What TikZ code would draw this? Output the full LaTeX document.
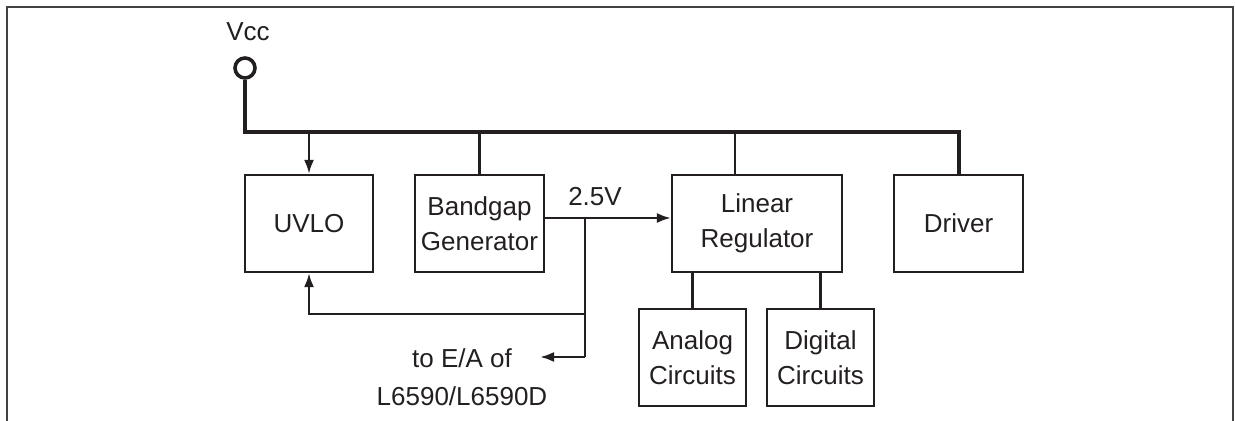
\documentclass[tikz,border=0pt]{standalone}
\usepackage{fontspec}
\setmainfont{Liberation Sans}
\usetikzlibrary{arrows.meta}
\definecolor{ink}{HTML}{231F20}
\begin{document}
\begin{tikzpicture}[x=0.5pt,y=-0.5pt,
  every node/.style={text=ink},
  txt/.style={font=\fontsize{13}{17.5}\selectfont},
  blk/.style={draw=ink,line width=1.1pt,minimum height=48.5pt,align=center,inner sep=0pt,font=\fontsize{13}{17.5}\selectfont},
  wire/.style={draw=ink,line width=1.2pt},
  bus/.style={draw=ink,line width=2pt},
  tip/.style={-{Latex[length=7pt,width=5pt]}},
  frame/.style={draw=ink!85,line width=1.1pt}]
\useasboundingbox (0,0) rectangle (1235,421);
\draw[frame] (7,421) -- (7,7) -- (1233,7) -- (1233,421);
% blocks
\node[blk,minimum width=64pt] (uvlo) at (309,223.5) {UVLO};
\node[blk,minimum width=64.5pt] (bg) at (479.5,223.5) {Bandgap\\Generator};
\node[blk,minimum width=85pt] (lr) at (757,223.5) {Linear\\Regulator};
\node[blk,minimum width=64.5pt] (drv) at (958.5,223.5) {Driver};
\node[blk,minimum width=53.5pt] (an) at (692.5,357.5) {Analog\\Circuits};
\node[blk,minimum width=53.5pt] (dg) at (820.5,357.5) {Digital\\Circuits};
% Vcc
\node[circle,draw=ink,line width=1.8pt,minimum size=10pt,inner sep=0pt,fill=white] (vcc) at (245,68) {};
\node[txt] (vcclbl) at (248,32) {Vcc};
\coordinate (busL) at (245,132);
\coordinate (busR) at (958.5,132);
\draw[bus] (vcc.south) -- (busL) -- (busR) -- (drv.north);
\draw[wire,tip] (uvlo.north |- busL) -- (uvlo.north);
\draw[wire] (bg.north |- busL) -- (bg.north);
\draw[wire] (735,132) coordinate (lrt) -- (lrt |- lr.north);
\draw[wire] (an.north |- lr.south) -- (an.north);
\draw[wire] (dg.north |- lr.south) -- (dg.north);
% 2.5V net
\coordinate (j1) at (585,218);
\coordinate (j2) at (585,314);
\coordinate (j3) at (585,357);
\coordinate (ea) at (540,357);
\draw[wire,tip] (bg.east |- j1) -- (lr.west |- j1);
\draw[wire] (j1) -- (j3);
\draw[wire,tip] (j2) -| (uvlo.south);
\draw[wire,tip] (j3) -- (ea);
\node[txt] (v25) at (595,197) {2.5V};
\node[txt,align=center,font=\fontsize{13}{19}\selectfont] (ealbl) at (462,377) {to E/A of\\L6590/L6590D};
\end{tikzpicture}
\end{document}
